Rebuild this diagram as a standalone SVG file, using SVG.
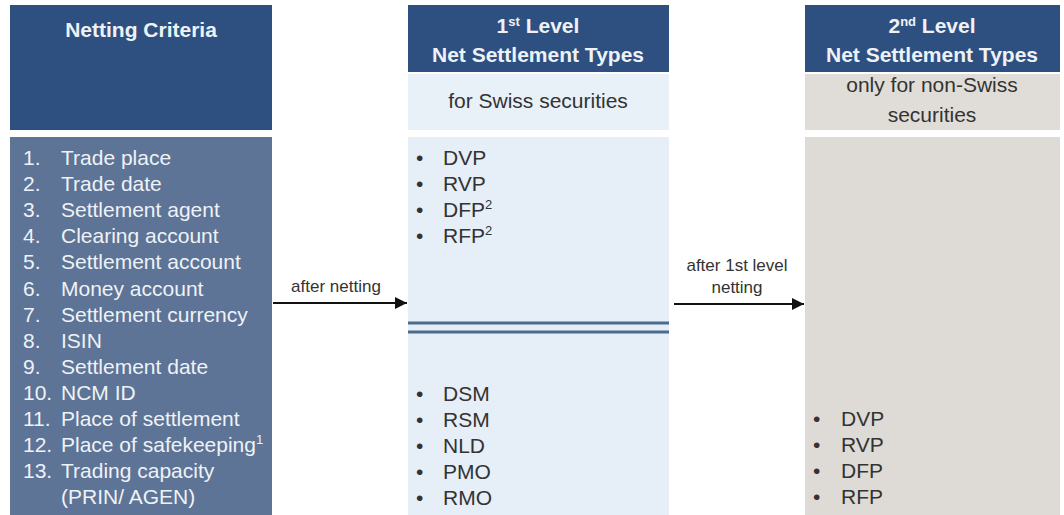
<svg xmlns="http://www.w3.org/2000/svg" width="1064" height="515" viewBox="0 0 1064 515">
<defs>
<style>
.hd{fill:#2d5080}
.hdt{font-family:"Liberation Sans",Arial,sans-serif;font-weight:bold;font-size:21px;fill:#eef2f7;text-anchor:middle}
.li{font-family:"Liberation Sans",Arial,sans-serif;font-size:21px;fill:#eef2f7}
.dk{font-family:"Liberation Sans",Arial,sans-serif;font-size:21px;fill:#333333}
.sub{font-family:"Liberation Sans",Arial,sans-serif;font-size:21px;fill:#333333;text-anchor:middle}
.lbl{font-family:"Liberation Sans",Arial,sans-serif;font-size:17px;fill:#333333;text-anchor:middle}
.sup{font-size:13px}
.con{stroke:#111;stroke-width:2;fill:none}
</style>
<marker id="ah" viewBox="0 0 10 10" refX="10" refY="5" markerWidth="6" markerHeight="6" orient="auto" markerUnits="strokeWidth">
<path d="M0,0 L10,5 L0,10 z" fill="#111"/>
</marker>
</defs>
<rect width="1064" height="515" fill="#ffffff"/>

<g id="netting-criteria">
<rect class="hd" x="10" y="5" width="262" height="125"/>
<text class="hdt" x="141" y="37">Netting Criteria</text>
<rect x="10" y="137" width="262" height="378" fill="#5d7496"/>
<g class="li">
<text x="23" y="165">1.</text><text x="61" y="165">Trade place</text>
<text x="23" y="191">2.</text><text x="61" y="191">Trade date</text>
<text x="23" y="217">3.</text><text x="61" y="217">Settlement agent</text>
<text x="23" y="243">4.</text><text x="61" y="243">Clearing account</text>
<text x="23" y="269">5.</text><text x="61" y="269">Settlement account</text>
<text x="23" y="296">6.</text><text x="61" y="296">Money account</text>
<text x="23" y="322">7.</text><text x="61" y="322">Settlement currency</text>
<text x="23" y="348">8.</text><text x="61" y="348">ISIN</text>
<text x="23" y="374">9.</text><text x="61" y="374">Settlement date</text>
<text x="23" y="400">10.</text><text x="61" y="400">NCM ID</text>
<text x="23" y="426">11.</text><text x="61" y="426">Place of settlement</text>
<text x="23" y="452">12.</text><text x="61" y="452">Place of safekeeping<tspan class="sup" dy="-8">1</tspan></text>
<text x="23" y="478">13.</text><text x="61" y="478">Trading capacity</text>
<text x="61" y="504">(PRIN/ AGEN)</text>
</g>
</g>

<g id="first-level">
<rect class="hd" x="408" y="5" width="261" height="67"/>
<text class="hdt" x="538" y="33">1<tspan class="sup" dy="-7">st</tspan><tspan dy="7"> Level</tspan></text>
<text class="hdt" x="538" y="62">Net Settlement Types</text>
<rect x="408" y="74" width="261" height="56" fill="#e8f0f8"/>
<text class="sub" x="538" y="108">for Swiss securities</text>
<rect x="408" y="137" width="261" height="378" fill="#e6eef7"/>
<line x1="408" y1="323" x2="669" y2="323" stroke="#4d6b8c" stroke-width="3"/>
<line x1="408" y1="332" x2="669" y2="332" stroke="#4d6b8c" stroke-width="3"/>
<g class="dk">
<text x="416" y="165">•</text><text x="443" y="165">DVP</text>
<text x="416" y="191">•</text><text x="443" y="191">RVP</text>
<text x="416" y="217">•</text><text x="443" y="217">DFP<tspan class="sup" dy="-8">2</tspan></text>
<text x="416" y="243">•</text><text x="443" y="243">RFP<tspan class="sup" dy="-8">2</tspan></text>
<text x="416" y="401">•</text><text x="443" y="401">DSM</text>
<text x="416" y="427">•</text><text x="443" y="427">RSM</text>
<text x="416" y="453">•</text><text x="443" y="453">NLD</text>
<text x="416" y="479">•</text><text x="443" y="479">PMO</text>
<text x="416" y="505">•</text><text x="443" y="505">RMO</text>
</g>
</g>

<g id="second-level">
<rect class="hd" x="805" y="5" width="255" height="67"/>
<text class="hdt" x="932" y="33">2<tspan class="sup" dy="-7">nd</tspan><tspan dy="7"> Level</tspan></text>
<text class="hdt" x="932" y="62">Net Settlement Types</text>
<rect x="805" y="74" width="255" height="56" fill="#e0ddd8"/>
<text class="sub" x="932" y="92">only for non-Swiss</text>
<text class="sub" x="932" y="122">securities</text>
<rect x="805" y="137" width="255" height="378" fill="#dedbd6"/>
<g class="dk">
<text x="813" y="426">•</text><text x="841" y="426">DVP</text>
<text x="813" y="452">•</text><text x="841" y="452">RVP</text>
<text x="813" y="478">•</text><text x="841" y="478">DFP</text>
<text x="813" y="504">•</text><text x="841" y="504">RFP</text>
</g>
</g>

<g id="connectors">
<line class="con" x1="273" y1="303" x2="407" y2="303" marker-end="url(#ah)"/>
<text class="lbl" x="336" y="292">after netting</text>
<line class="con" x1="674" y1="304" x2="804" y2="304" marker-end="url(#ah)"/>
<text class="lbl" x="737" y="271">after 1st level</text>
<text class="lbl" x="737" y="293">netting</text>
</g>
</svg>
